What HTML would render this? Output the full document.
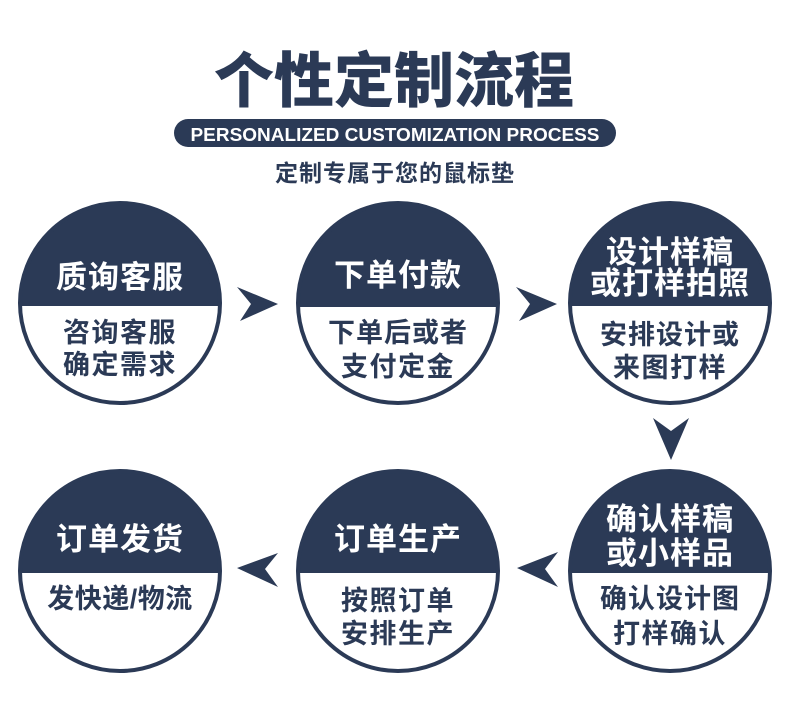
<!DOCTYPE html>
<html>
<head>
<meta charset="utf-8">
<style>
  html, body { margin:0; padding:0; background:#ffffff; }
  body { width:790px; height:723px; overflow:hidden; }
  svg { display:block; }
  .cjk { font-family: "Liberation Sans", "Noto Sans CJK SC", "WenQuanYi Zen Hei", sans-serif; }
</style>
</head>
<body>
<svg width="790" height="723" viewBox="0 0 790 723" xmlns="http://www.w3.org/2000/svg">
  <defs>
    <clipPath id="c1"><circle cx="120" cy="303" r="100"/></clipPath>
    <clipPath id="c2"><circle cx="398" cy="303" r="100"/></clipPath>
    <clipPath id="c3"><circle cx="670" cy="303" r="100"/></clipPath>
    <clipPath id="c4"><circle cx="120" cy="571" r="100"/></clipPath>
    <clipPath id="c5"><circle cx="398" cy="571" r="100"/></clipPath>
    <clipPath id="c6"><circle cx="670" cy="571" r="100"/></clipPath>
  </defs>

  <!-- Title -->
  <text x="394" y="102" text-anchor="middle" class="cjk" font-size="60" font-weight="900" fill="#2b3a56">个性定制流程</text>

  <!-- Pill -->
  <rect x="174" y="119" width="442" height="28" rx="14" ry="14" fill="#2b3a56"/>
  <text x="395" y="141" text-anchor="middle" font-family="Liberation Sans, sans-serif" font-size="18" font-weight="700" fill="#ffffff" textLength="409" lengthAdjust="spacingAndGlyphs">PERSONALIZED CUSTOMIZATION PROCESS</text>

  <!-- Subtitle -->
  <text x="395" y="181" text-anchor="middle" class="cjk" font-size="23" font-weight="700" fill="#2b3a56" letter-spacing="1">定制专属于您的鼠标垫</text>

  <!-- Circle 1 -->
  <g clip-path="url(#c1)"><rect x="0" y="190" width="260" height="116" fill="#2b3a56"/></g>
  <circle cx="120" cy="303" r="100" fill="none" stroke="#2b3a56" stroke-width="4"/>
  <text x="120" y="288" text-anchor="middle" class="cjk" font-size="31" font-weight="700" fill="#ffffff" letter-spacing="1">质询客服</text>
  <text x="120" y="342" text-anchor="middle" class="cjk" font-size="27" font-weight="700" fill="#2b3a56" letter-spacing="1.5">咨询客服</text>
  <text x="120" y="374" text-anchor="middle" class="cjk" font-size="27" font-weight="700" fill="#2b3a56" letter-spacing="1.5">确定需求</text>

  <!-- Circle 2 -->
  <g clip-path="url(#c2)"><rect x="280" y="190" width="240" height="117" fill="#2b3a56"/></g>
  <circle cx="398" cy="303" r="100" fill="none" stroke="#2b3a56" stroke-width="4"/>
  <text x="398" y="286" text-anchor="middle" class="cjk" font-size="31" font-weight="700" fill="#ffffff" letter-spacing="1">下单付款</text>
  <text x="398" y="342" text-anchor="middle" class="cjk" font-size="27" font-weight="700" fill="#2b3a56" letter-spacing="1">下单后或者</text>
  <text x="398" y="376" text-anchor="middle" class="cjk" font-size="27" font-weight="700" fill="#2b3a56" letter-spacing="1.5">支付定金</text>

  <!-- Circle 3 -->
  <g clip-path="url(#c3)"><rect x="550" y="190" width="240" height="116" fill="#2b3a56"/></g>
  <circle cx="670" cy="303" r="100" fill="none" stroke="#2b3a56" stroke-width="4"/>
  <text x="670" y="263" text-anchor="middle" class="cjk" font-size="31" font-weight="700" fill="#ffffff" letter-spacing="1">设计样稿</text>
  <text x="670" y="294" text-anchor="middle" class="cjk" font-size="31" font-weight="700" fill="#ffffff" letter-spacing="1">或打样拍照</text>
  <text x="670" y="344" text-anchor="middle" class="cjk" font-size="27" font-weight="700" fill="#2b3a56" letter-spacing="1">安排设计或</text>
  <text x="670" y="377" text-anchor="middle" class="cjk" font-size="27" font-weight="700" fill="#2b3a56" letter-spacing="1.5">来图打样</text>

  <!-- Circle 4 -->
  <g clip-path="url(#c4)"><rect x="0" y="460" width="260" height="113" fill="#2b3a56"/></g>
  <circle cx="120" cy="571" r="100" fill="none" stroke="#2b3a56" stroke-width="4"/>
  <text x="120" y="550" text-anchor="middle" class="cjk" font-size="31" font-weight="700" fill="#ffffff" letter-spacing="1">订单发货</text>
  <text x="120" y="608" text-anchor="middle" class="cjk" font-size="27" font-weight="700" fill="#2b3a56" letter-spacing="0.5">发快递/物流</text>

  <!-- Circle 5 -->
  <g clip-path="url(#c5)"><rect x="280" y="460" width="240" height="113" fill="#2b3a56"/></g>
  <circle cx="398" cy="571" r="100" fill="none" stroke="#2b3a56" stroke-width="4"/>
  <text x="398" y="550" text-anchor="middle" class="cjk" font-size="31" font-weight="700" fill="#ffffff" letter-spacing="1">订单生产</text>
  <text x="398" y="610" text-anchor="middle" class="cjk" font-size="27" font-weight="700" fill="#2b3a56" letter-spacing="1.5">按照订单</text>
  <text x="398" y="643" text-anchor="middle" class="cjk" font-size="27" font-weight="700" fill="#2b3a56" letter-spacing="1.5">安排生产</text>

  <!-- Circle 6 -->
  <g clip-path="url(#c6)"><rect x="550" y="460" width="240" height="113" fill="#2b3a56"/></g>
  <circle cx="670" cy="571" r="100" fill="none" stroke="#2b3a56" stroke-width="4"/>
  <text x="670" y="530" text-anchor="middle" class="cjk" font-size="31" font-weight="700" fill="#ffffff" letter-spacing="1">确认样稿</text>
  <text x="670" y="564" text-anchor="middle" class="cjk" font-size="31" font-weight="700" fill="#ffffff" letter-spacing="1">或小样品</text>
  <text x="670" y="608" text-anchor="middle" class="cjk" font-size="27" font-weight="700" fill="#2b3a56" letter-spacing="1">确认设计图</text>
  <text x="670" y="643" text-anchor="middle" class="cjk" font-size="27" font-weight="700" fill="#2b3a56" letter-spacing="1.5">打样确认</text>

  <!-- Arrows -->
  <polygon points="237,287 278,304 240,321 251,304" fill="#2b3a56"/>
  <polygon points="516,287 557,304 519,321 530,304" fill="#2b3a56"/>
  <polygon points="653,418 671,431 689,418 671,460" fill="#2b3a56"/>
  <polygon points="278,553 265,569 278,587 237,568" fill="#2b3a56"/>
  <polygon points="558,552 545,569 558,587 517,568" fill="#2b3a56"/>
</svg>
</body>
</html>
